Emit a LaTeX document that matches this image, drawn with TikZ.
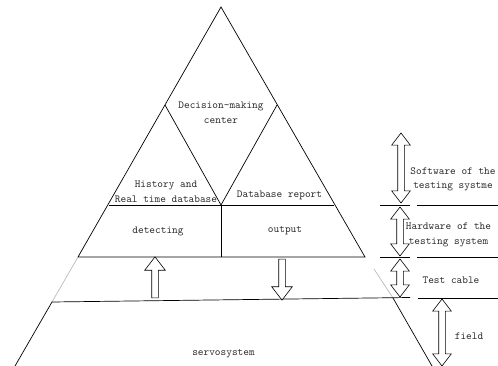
\documentclass[tikz,border=0pt]{standalone}
\usepackage{fontspec}
\usetikzlibrary{shapes.arrows}
\definecolor{ink}{HTML}{000000}
\definecolor{txt}{HTML}{2A2A2A}
\definecolor{faint}{HTML}{BBBBBB}
\tikzset{
  line/.style={draw=ink, line width=0.7pt},
  fadedline/.style={draw=faint, line width=0.7pt},
  lbl/.style={text=txt, font=\ttfamily\fontsize{10.8}{14.5}\selectfont, align=center, inner sep=0pt},
  uparrow/.style={draw=ink, line width=0.6pt, single arrow, single arrow head extend=7pt,
    single arrow tip angle=75, inner xsep=0pt, inner ysep=3pt},
  twoarrow/.style={draw=ink, line width=0.6pt, double arrow, double arrow head extend=6pt,
    double arrow tip angle=75, inner xsep=0pt, inner ysep=3pt, rotate=90}
}

\begin{document}
\begin{tikzpicture}[x=1pt, y=-1pt]
  \useasboundingbox (0,0) rectangle (498,366);

  % pyramid
  \coordinate (apex) at (221,7);
  \coordinate (lmid) at (165,105);
  \coordinate (rmid) at (277,105);
  \coordinate (vtip) at (221,205);
  \coordinate (l1) at (108.5,205);
  \coordinate (r1) at (333.5,205);
  \coordinate (l2) at (78,257);
  \coordinate (r2) at (365,257);
  \coordinate (vbot) at (221,257);
  \coordinate (l3) at (52,302);
  \coordinate (r3) at (393,298);
  \coordinate (rf) at (374,269);
  \coordinate (cut) at (410,297.5);
  \coordinate (l4) at (15,366);
  \coordinate (r4) at (432,366);

  \draw[line] (l2) -- (apex) -- (r2) -- cycle;
  \draw[line] (lmid) -- (vtip) -- (rmid);
  \draw[line] (l1) -- (r1);
  \draw[line] (vtip) -- (vbot);
  \draw[fadedline] (l2) -- (l3);
  \draw[fadedline] (rf) -- (r3);
  \draw[line] (l4) -- (l3) -- (cut);
  \draw[line] (r3) -- (r4);

  % separators on the right
  \draw[line] (380,205) -- (410,205) (417,205) -- (498,205);
  \draw[line] (380,257) -- (410,257) (417,257) -- (498,257);
  \draw[line] (418,298) -- (498,298);

  % labels
  \node[lbl] (dec) at (221,112.5) {Decision-making\\center};
  \node[lbl] (hist) at (166,192) {History and\\Real time database};
  \node[lbl] (rep) at (279.5,195) {Database report};
  \node[lbl] (det) at (158,231) {detecting};
  \node[lbl] (out) at (285,231) {output};
  \node[lbl] (servo) at (223.5,354) {servosystem};
  \node[lbl] (soft) at (453,179.5) {Software of the\\testing systme};
  \node[lbl] (hard) at (448.5,235) {Hardware of the\\testing system};
  \node[lbl] (cable) at (451,280) {Test cable};
  \node[lbl] (fld) at (469,336) {field};

  % arrows
  \node[uparrow, rotate=90, minimum height=41pt] (up) at (155,279.5) {};
  \node[uparrow, rotate=-90, minimum height=41pt] (down) at (282,277.5) {};
  \node[twoarrow, minimum height=70pt] (sw) at (401,168) {};
  \node[twoarrow, minimum height=49pt] (hw) at (400,231.5) {};
  \node[twoarrow, minimum height=38pt] (tc) at (400,278) {};
  \node[twoarrow, minimum height=67pt] (fd) at (442,332.5) {};
\end{tikzpicture}
\end{document}
